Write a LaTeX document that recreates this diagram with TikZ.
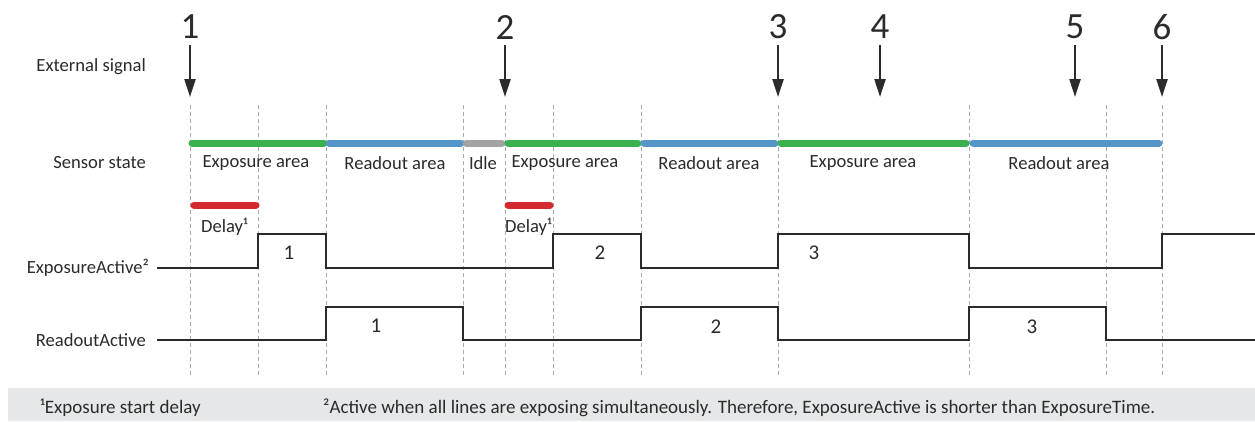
\documentclass[tikz,border=0pt]{standalone}
\usepackage{fontspec}
\setmainfont{Carlito}
\usetikzlibrary{arrows.meta}
\definecolor{txt}{HTML}{2B2B2B}
\definecolor{grn}{HTML}{3BB04F}
\definecolor{blu}{HTML}{5596CA}
\definecolor{gry}{HTML}{A3A3A6}
\definecolor{red}{HTML}{D3292F}
\definecolor{foot}{HTML}{E6E7E8}
\definecolor{dash}{HTML}{AAAAAA}
\tikzset{
  lab/.style={text=txt,font=\fontsize{18.6}{20}\selectfont,inner sep=0pt},
  rowlab/.style={lab,anchor=east},
  big/.style={text=txt,font=\fontsize{37}{40}\selectfont,inner sep=0pt},
  sig/.style={text=txt,font=\fontsize{21}{23}\selectfont,inner sep=0pt},
  trig/.style={draw=txt,line width=2.2pt,-{Triangle[length=18pt,width=11pt]}},
  guide/.style={draw=dash,line width=0.8pt,dash pattern=on 4pt off 3pt},
  bar/.style={line width=7pt,line cap=round},
  wave/.style={draw=txt,line width=2.8pt}
}
\begin{document}
\begin{tikzpicture}[x=1pt,y=-1pt]
\useasboundingbox (0,0) rectangle (1255,421);
% guides
\foreach \gx in {190,258,326,463,505,553,641,778,969,1106,1162}
  \draw[guide] (\gx,105) -- (\gx,377);
% footer
\fill[foot] (8,388) rectangle (1255,421);
\node[lab,anchor=west,font=\fontsize{19}{20}\selectfont] (f1) at (40,408) {¹Exposure start delay};
\node[lab,anchor=west,font=\fontsize{19}{20}\selectfont] (f2) at (323,408) {²Active when all lines are exposing simultaneously. Therefore, ExposureActive is shorter than ExposureTime.};
% row labels
\node[rowlab] (r1) at (146,67) {External signal};
\node[rowlab] (r2) at (146,163) {Sensor state};
\node[rowlab] (r3) at (149,268) {ExposureActive²};
\node[rowlab] (r4) at (146,340) {ReadoutActive};
% triggers
\foreach \n/\tx in {1/190,2/505,3/778,4/880,5/1075,6/1162}{
  \node[big] (n\n) at (\tx,27) {\n};
  \coordinate (t\n) at (\tx,97);
  \draw[trig] (\tx,45) -- (t\n);
}
% sensor state bars
\draw[bar,grn] (192,143) -- (324,143);
\draw[bar,blu] (329,143) -- (461,143);
\draw[bar,gry] (466,143) -- (502,143);
\draw[bar,grn] (508,143) -- (638,143);
\draw[bar,blu] (644,143) -- (775,143);
\draw[bar,grn] (781,143) -- (966,143);
\draw[bar,blu] (973,143) -- (1159,143);
\node[lab] (s1) at (256,163) {Exposure area};
\node[lab] (s2) at (395,163) {Readout area};
\node[lab] (s3) at (483,163) {Idle};
\node[lab] (s4) at (565,163) {Exposure area};
\node[lab] (s5) at (709,163) {Readout area};
\node[lab] (s6) at (863,163) {Exposure area};
\node[lab] (s7) at (1059,163) {Readout area};
% delay bars
\draw[bar,red] (194,205) -- (256,205);
\draw[bar,red] (508,205) -- (550,205);
\node[lab,anchor=west] (d1) at (201,227) {Delay¹};
\node[lab,anchor=west] (d2) at (505,227) {Delay¹};
% ExposureActive wave
\draw[wave] (157,268) -- (258,268) -- (258,234) -- (326,234) -- (326,268)
  -- (553,268) -- (553,234) -- (641,234) -- (641,268) -- (778,268) -- (778,234)
  -- (969,234) -- (969,268) -- (1162,268) -- (1162,234) -- (1255,234);
\node[sig] (e1) at (289,253) {1};
\node[sig] (e2) at (600,253) {2};
\node[sig] (e3) at (814,253) {3};
% ReadoutActive wave
\draw[wave] (157,340) -- (326,340) -- (326,307) -- (463,307) -- (463,340)
  -- (641,340) -- (641,307) -- (778,307) -- (778,340) -- (969,340) -- (969,307)
  -- (1106,307) -- (1106,340) -- (1255,340);
\node[sig] (a1) at (376,326) {1};
\node[sig] (a2) at (716,327) {2};
\node[sig] (a3) at (1032,327) {3};
\end{tikzpicture}
\end{document}
